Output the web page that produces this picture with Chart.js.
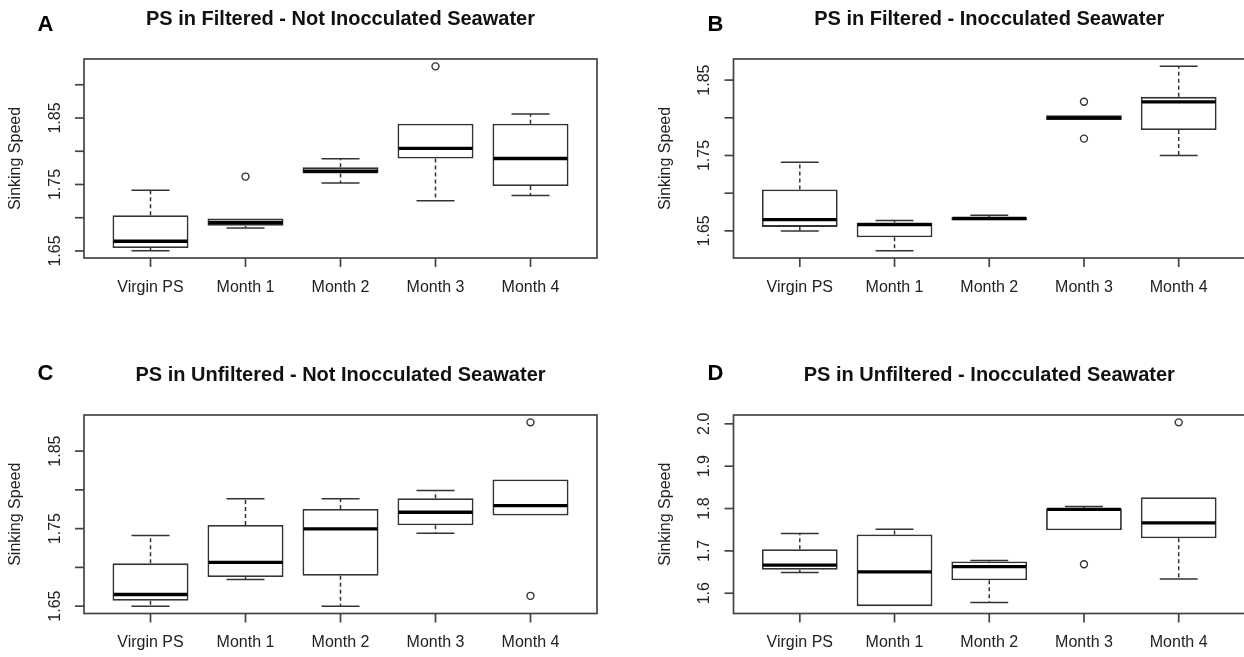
<!DOCTYPE html>
<html>
<head>
<meta charset="utf-8">
<script src="https://cdn.jsdelivr.net/npm/chart.js@4.4.1/dist/chart.umd.min.js"></script>
<style>
  html, body { margin: 0; padding: 0; background: #fff; overflow: hidden; }
  #wrap { position: relative; width: 1244px; height: 657px; overflow: hidden; }
  canvas { position: absolute; }
</style>
</head>
<body>
<div id="wrap">
  <canvas id="panelA" width="622" height="330" style="left:0;top:0"></canvas>
  <canvas id="panelB" width="630" height="330" style="left:622px;top:0"></canvas>
  <canvas id="panelC" width="622" height="327" style="left:0;top:330px"></canvas>
  <canvas id="panelD" width="630" height="327" style="left:622px;top:330px"></canvas>
</div>
<script>
const categories = ['Virgin PS', 'Month 1', 'Month 2', 'Month 3', 'Month 4'];

// A - Filtered, not inocculated
const aLow      = [1.6505, 1.6847, 1.7523, 1.7256, 1.7336];
const aQ1       = [1.6545, 1.6878, 1.7664, 1.7891, 1.7477];
const aMedian   = [1.6646, 1.6928, 1.7700, 1.8042, 1.7891];
const aQ3       = [1.7039, 1.6988, 1.7760, 1.8415, 1.8415];
const aHigh     = [1.7412, 1.6988, 1.7886, 1.8415, 1.8561];
const aOutliers = [[1, 1.7619], [3, 1.9277]];
const aTicks      = [1.65, 1.70, 1.75, 1.80, 1.85, 1.90];
const aTickLabels = ['1.65', '', '1.75', '', '1.85', ''];

// B - Filtered, inocculated
const bLow      = [1.6500, 1.6238, 1.6641, 1.7972, 1.7500];
const bQ1       = [1.6553, 1.6415, 1.6641, 1.7972, 1.7839];
const bMedian   = [1.6650, 1.6584, 1.6664, 1.7999, 1.8212];
const bQ3       = [1.7050, 1.6610, 1.6681, 1.8034, 1.8278];
const bHigh     = [1.7409, 1.6637, 1.6708, 1.8034, 1.8682];
const bOutliers = [[3, 1.8212], [3, 1.7724]];
const bTicks      = [1.65, 1.70, 1.75, 1.80, 1.85];
const bTickLabels = ['1.65', '', '1.75', '', '1.85'];

// C - Unfiltered, not inocculated
const cLow      = [1.6500, 1.6845, 1.6500, 1.7440, 1.7668];
const cQ1       = [1.6569, 1.6875, 1.6892, 1.7543, 1.7668];
const cMedian   = [1.6650, 1.7064, 1.7496, 1.7711, 1.7798];
const cQ3       = [1.7052, 1.7548, 1.7754, 1.7892, 1.8134];
const cHigh     = [1.7410, 1.7884, 1.7884, 1.7992, 1.8134];
const cOutliers = [[4, 1.8871], [4, 1.6633]];
const cTicks      = [1.65, 1.70, 1.75, 1.80, 1.85];
const cTickLabels = ['1.65', '', '1.75', '', '1.85'];

// D - Unfiltered, inocculated
const dLow      = [1.6489, 1.5695, 1.5780, 1.7488, 1.6339];
const dQ1       = [1.6552, 1.5695, 1.6308, 1.7488, 1.7300];
const dMedian   = [1.6662, 1.6505, 1.6630, 1.7980, 1.7662];
const dQ3       = [1.7040, 1.7386, 1.6749, 1.8008, 1.8268];
const dHigh     = [1.7410, 1.7512, 1.6772, 1.8047, 1.8268];
const dOutliers = [[3, 1.6686], [4, 2.0035]];
const dTicks      = [1.6, 1.7, 1.8, 1.9, 2.0];
const dTickLabels = ['1.6', '1.7', '1.8', '1.9', '2.0'];

const FONT = "'Liberation Sans', Arial, sans-serif";
const LINE = '#333';

const panels = [
  { id: 'panelA', letter: 'A', letterPos: [45.5, 25], title: 'PS in Filtered - Not Inocculated Seawater',
    low: aLow, q1: aQ1, median: aMedian, q3: aQ3, high: aHigh, outliers: aOutliers,
    ticks: aTicks, tickLabels: aTickLabels, padding: { left: 84, top: 59, right: 25, bottom: 72 } },
  { id: 'panelB', letter: 'B', letterPos: [93.5, 25], title: 'PS in Filtered - Inocculated Seawater',
    low: bLow, q1: bQ1, median: bMedian, q3: bQ3, high: bHigh, outliers: bOutliers,
    ticks: bTicks, tickLabels: bTickLabels, padding: { left: 111.5, top: 59, right: 7, bottom: 72 } },
  { id: 'panelC', letter: 'C', letterPos: [45.5, 44], title: 'PS in Unfiltered - Not Inocculated Seawater',
    low: cLow, q1: cQ1, median: cMedian, q3: cQ3, high: cHigh, outliers: cOutliers,
    ticks: cTicks, tickLabels: cTickLabels, padding: { left: 84, top: 85, right: 25, bottom: 43.5 } },
  { id: 'panelD', letter: 'D', letterPos: [93.5, 44], title: 'PS in Unfiltered - Inocculated Seawater',
    low: dLow, q1: dQ1, median: dMedian, q3: dQ3, high: dHigh, outliers: dOutliers,
    ticks: dTicks, tickLabels: dTickLabels, padding: { left: 111.5, top: 85, right: 7, bottom: 43.5 } }
];

// whiskers, medians, frame, axes and titles in the style of R's boxplot()
const rBoxplot = {
  id: 'rBoxplot',
  afterDatasetsDraw(chart, args, p) {
    const { ctx, chartArea: a, scales: { x, y } } = chart;
    ctx.save();

    // whiskers + caps
    ctx.strokeStyle = LINE;
    ctx.lineWidth = 1.5;
    p.low.forEach((lo, i) => {
      const cx = x.getPixelForValue(i + 1);
      const l = x.getPixelForValue(i + 0.8), r = x.getPixelForValue(i + 1.2);
      [[lo, p.q1[i]], [p.high[i], p.q3[i]]].forEach(([end, edge]) => {
        const ye = y.getPixelForValue(end), yb = y.getPixelForValue(edge);
        if (Math.abs(ye - yb) < 0.5) return;
        ctx.setLineDash([4, 3]);
        ctx.beginPath(); ctx.moveTo(cx, yb); ctx.lineTo(cx, ye); ctx.stroke();
        ctx.setLineDash([]);
        ctx.beginPath(); ctx.moveTo(l, ye); ctx.lineTo(r, ye); ctx.stroke();
      });
    });

    // medians
    ctx.strokeStyle = '#000';
    ctx.lineWidth = 3.3;
    p.median.forEach((m, i) => {
      const ym = y.getPixelForValue(m);
      ctx.beginPath();
      ctx.moveTo(x.getPixelForValue(i + 0.6) + 1, ym);
      ctx.lineTo(x.getPixelForValue(i + 1.4) - 1, ym);
      ctx.stroke();
    });

    // plot frame
    ctx.strokeStyle = '#444';
    ctx.lineWidth = 1.7;
    ctx.strokeRect(a.left, a.top, a.right - a.left, a.bottom - a.top);

    // x axis ticks and labels
    ctx.fillStyle = '#222';
    ctx.font = '16px ' + FONT;
    ctx.textAlign = 'center';
    ctx.textBaseline = 'middle';
    categories.forEach((c, i) => {
      const px = x.getPixelForValue(i + 1);
      ctx.beginPath(); ctx.moveTo(px, a.bottom); ctx.lineTo(px, a.bottom + 9); ctx.stroke();
      ctx.fillText(c, px, a.bottom + 29.5);
    });

    // y axis ticks and rotated labels
    p.ticks.forEach((t, i) => {
      const py = y.getPixelForValue(t);
      ctx.beginPath(); ctx.moveTo(a.left - 9, py); ctx.lineTo(a.left, py); ctx.stroke();
      if (!p.tickLabels[i]) return;
      ctx.save();
      ctx.translate(a.left - 28.5, py);
      ctx.rotate(-Math.PI / 2);
      ctx.fillText(p.tickLabels[i], 0, 0);
      ctx.restore();
    });

    ctx.save();
    ctx.translate(a.left - 68, (a.top + a.bottom) / 2);
    ctx.rotate(-Math.PI / 2);
    ctx.fillText('Sinking Speed', 0, 0);
    ctx.restore();

    // title and panel letter
    ctx.fillStyle = '#111';
    ctx.font = 'bold 20px ' + FONT;
    ctx.fillText(p.title, (a.left + a.right) / 2, a.top - 39.5);
    ctx.fillStyle = '#000';
    ctx.font = 'bold 22px ' + FONT;
    ctx.fillText(p.letter, p.letterPos[0], p.letterPos[1]);

    ctx.restore();
  }
};

panels.forEach(p => {
  const all = [...p.low, ...p.high, ...p.outliers.map(o => o[1])];
  const lo = Math.min(...all), hi = Math.max(...all);
  const pad = (hi - lo) * 0.04;   // R's default 4% axis extension

  new Chart(document.getElementById(p.id), {
    type: 'bar',
    data: {
      datasets: [{
        label: 'box',
        data: categories.map((c, i) => ({ x: i + 1, y: [p.q1[i], p.q3[i]] })),
        backgroundColor: '#fff',
        borderColor: LINE,
        borderWidth: 1.8,
        borderSkipped: false,
        barPercentage: 1,
        categoryPercentage: 0.8
      }, {
        type: 'scatter',
        label: 'outliers',
        data: p.outliers.map(([i, v]) => ({ x: i + 1, y: v })),
        pointRadius: 3.5,
        pointBorderWidth: 1.4,
        pointBorderColor: LINE,
        pointBackgroundColor: '#fff'
      }]
    },
    options: {
      responsive: false,
      animation: false,
      devicePixelRatio: 1,
      events: [],
      layout: { padding: p.padding },
      plugins: {
        legend: { display: false },
        tooltip: { enabled: false },
        rBoxplot: p
      },
      scales: {
        x: {
          type: 'linear', display: false, min: 0.3, max: 5.7, offset: false,
          // one tick per group so the bar ruler uses the group spacing
          afterBuildTicks: s => { s.ticks = categories.map((c, i) => ({ value: i + 1 })); }
        },
        y: { type: 'linear', display: false, min: lo - pad, max: hi + pad }
      }
    },
    plugins: [rBoxplot]
  });
});
</script>
</body>
</html>
